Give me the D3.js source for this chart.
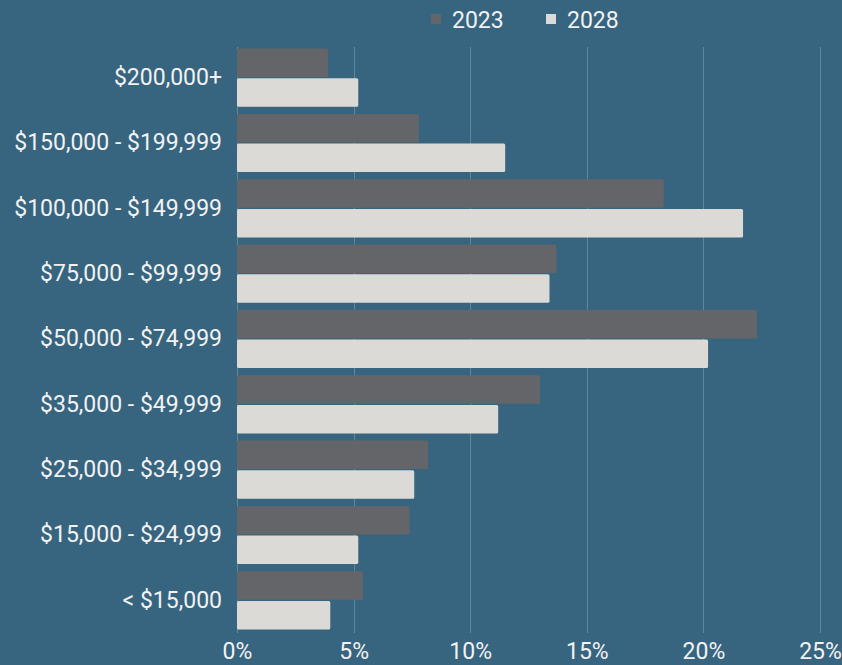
<!DOCTYPE html>
<html>
<head>
<meta charset="utf-8">
<script src="https://cdn.jsdelivr.net/npm/d3@7"></script>
<style>
  body { margin: 0; background: #37647f; }
  svg text { font-family: Roboto, "Noto Sans", sans-serif; }
</style>
</head>
<body>
<div id="chart-area"></div>
<script>
// income brackets, top to bottom
var categories = ["$200,000+", "$150,000 - $199,999", "$100,000 - $149,999",
    "$75,000 - $99,999", "$50,000 - $74,999", "$35,000 - $49,999",
    "$25,000 - $34,999", "$15,000 - $24,999", "< $15,000"];
var seriesNames = ["2023", "2028"];
var values2023 = [3.9, 7.8, 18.3, 13.7, 22.3, 13.0, 8.2, 7.4, 5.4];
var values2028 = [5.2, 11.5, 21.7, 13.4, 20.2, 11.2, 7.6, 5.2, 4.0];
var xTicks = [0, 5, 10, 15, 20, 25];
var colors = ["#646569", "#dcdad6"];

var width = 842, height = 665;
var margin = { left: 237, right: 22, top: 45, bottom: 32 };
var fontSize = "23px";

var svg = d3.select("#chart-area")
    .append("svg")
        .attr("width", width)
        .attr("height", height);

svg.append("rect")
    .attr("width", width)
    .attr("height", height)
    .attr("fill", "#37647f");

var x = d3.scaleLinear()
    .domain([0, 25])
    .range([margin.left, width - margin.right]);

var y = d3.scaleBand()
    .domain(categories)
    .range([margin.top, height - margin.bottom])
    .paddingInner(0.11)
    .paddingOuter(0.055);

var ySub = d3.scaleBand()
    .domain(seriesNames)
    .range([0, y.bandwidth()])
    .paddingInner(0.04);

// Gridlines
svg.append("g")
    .selectAll("line")
    .data(xTicks)
    .enter().append("line")
        .attr("x1", function(d) { return Math.round(x(d)) + 0.5; })
        .attr("x2", function(d) { return Math.round(x(d)) + 0.5; })
        .attr("y1", margin.top + 2)
        .attr("y2", height - margin.bottom)
        .attr("stroke", "rgba(255,255,255,0.22)")
        .attr("stroke-width", 1);

// Bars
var rows = categories.map(function(c, i) {
    return { cat: c, vals: [values2023[i], values2028[i]] };
});

var groups = svg.append("g")
    .selectAll("g")
    .data(rows)
    .enter().append("g")
        .attr("transform", function(d) { return "translate(0," + y(d.cat) + ")"; });

groups.selectAll("rect")
    .data(function(d) {
        return d.vals.map(function(v, j) { return { key: seriesNames[j], value: v, j: j }; });
    })
    .enter().append("rect")
        .attr("x", x(0))
        .attr("y", function(d) { return ySub(d.key); })
        .attr("width", function(d) { return x(d.value) - x(0); })
        .attr("height", ySub.bandwidth())
        .attr("rx", 1.5)
        .attr("fill", function(d) { return colors[d.j]; });

// Y labels
var yAxisCall = d3.axisLeft(y).tickSize(0).tickPadding(15);
var yAxisGroup = svg.append("g")
    .attr("transform", "translate(" + x(0) + ",0)")
    .call(yAxisCall);
yAxisGroup.select(".domain").remove();
yAxisGroup.selectAll("text")
    .attr("font-size", fontSize)
    .attr("fill", "#f2f2f2")
    .attr("font-family", "Roboto, sans-serif");

// X axis labels
var xAxisCall = d3.axisBottom(x)
    .tickValues(xTicks)
    .tickSize(0)
    .tickPadding(10)
    .tickFormat(function(d) { return d + "%"; });
var xAxisGroup = svg.append("g")
    .attr("transform", "translate(0," + (height - margin.bottom) + ")")
    .call(xAxisCall);
xAxisGroup.select(".domain").remove();
xAxisGroup.selectAll("text")
    .attr("font-size", fontSize)
    .attr("fill", "#f2f2f2")
    .attr("font-family", "Roboto, sans-serif");

// Legend
var legendX = [431, 546];
var legend = svg.append("g")
    .selectAll("g")
    .data(seriesNames)
    .enter().append("g")
        .attr("transform", function(d, i) { return "translate(" + legendX[i] + ",14)"; });
legend.append("rect")
    .attr("width", 10)
    .attr("height", 10)
    .attr("fill", function(d, i) { return colors[i]; });
legend.append("text")
    .attr("x", 21)
    .attr("y", 14)
    .attr("font-size", fontSize)
    .attr("fill", "#f2f2f2")
    .text(function(d) { return d; });
</script>
</body>
</html>
